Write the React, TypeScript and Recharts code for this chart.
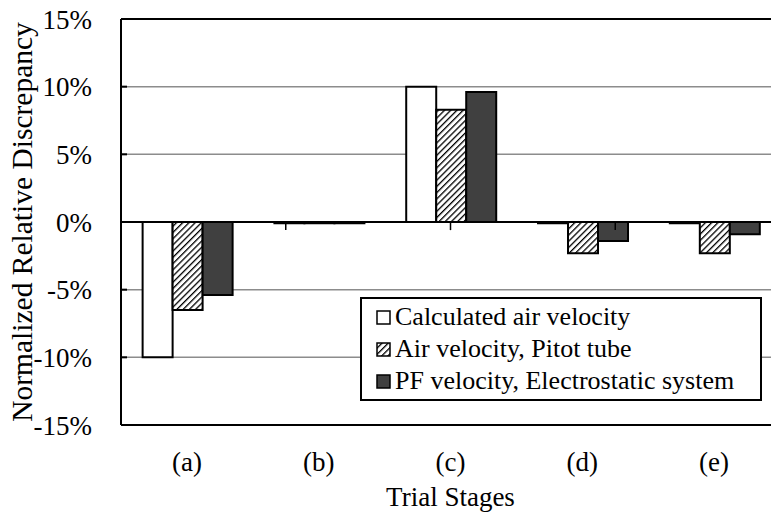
import { Bar, BarChart, CartesianGrid, Legend, ReferenceLine, XAxis, YAxis } from 'recharts';

const stages = ['(a)', '(b)', '(c)', '(d)', '(e)'];
const calculated = [-10, -0.1, 10, -0.1, -0.1];
const pitot = [-6.5, -0.1, 8.3, -2.3, -2.3];
const electrostatic = [-5.4, -0.1, 9.6, -1.4, -0.9];
const seriesNames = ['Calculated air velocity', 'Air velocity, Pitot tube', 'PF velocity, Electrostatic system'];
const yTicks = [-15, -10, -5, 0, 5, 10, 15];
const stageEdges = [1, 2, 3, 4];

const data = stages.map((stage, i) => ({
  stage,
  calculated: calculated[i],
  pitot: pitot[i],
  electrostatic: electrostatic[i],
}));

const font = 'Liberation Serif';

function LegendBox({ payload }: any) {
  const items = [...(payload || [])].sort((a: any, b: any) => seriesNames.indexOf(a.value) - seriesNames.indexOf(b.value));
  return (
    <div
      style={{
        border: '2px solid #000',
        background: '#fff',
        padding: '2px 10px 2px 14px',
        fontFamily: font,
        fontSize: 26,
        lineHeight: '32px',
        color: '#000',
      }}
    >
      {items.map((p: any) => (
        <div key={p.value} style={{ display: 'flex', alignItems: 'center', whiteSpace: 'nowrap', fontFamily: font }}>
          <svg width={15} height={15} style={{ marginRight: 4 }}>
            <rect x={1} y={1} width={13} height={13} fill={p.payload?.fill ?? p.color} stroke="#000" strokeWidth={1.5} />
          </svg>
          {p.value}
        </div>
      ))}
    </div>
  );
}

export default function App() {
  return (
    <div style={{ position: 'absolute', left: 0, top: 0, width: 771, height: 517, overflow: 'hidden', background: '#fff', fontFamily: font }}>
      <BarChart
        width={800}
        height={517}
        data={data}
        margin={{ top: 19, right: 20, bottom: 0, left: 0 }}
        barCategoryGap="16.4%"
        barGap={0}
        style={{ fontFamily: font }}
      >
        <defs>
          <pattern id="hatch" patternUnits="userSpaceOnUse" width={4.4} height={4.4} patternTransform="rotate(45)">
            <rect width={4.4} height={4.4} fill="#fff" />
            <line x1={0} y1={0} x2={0} y2={4.4} stroke="#000" strokeWidth={2.6} />
          </pattern>
        </defs>
        <CartesianGrid horizontal vertical={false} stroke="#8c8c8c" strokeWidth={1.5} />
        <XAxis
          dataKey="stage"
          height={92}
          axisLine={{ stroke: '#000', strokeWidth: 2 }}
          tickLine={false}
          tickSize={0}
          tickMargin={27}
          tick={{ fill: '#000', fontSize: 27, fontFamily: font }}
          label={{ value: 'Trial Stages', position: 'insideBottom', offset: 11, fill: '#000', fontSize: 27, fontFamily: font }}
        />
        <XAxis xAxisId="edges" type="number" domain={[0, 5]} hide />
        <YAxis
          width={121}
          domain={[-15, 15]}
          ticks={yTicks}
          tickFormatter={(v: number) => `${v}%`}
          axisLine={{ stroke: '#000', strokeWidth: 2 }}
          tickLine={{ stroke: '#000', strokeWidth: 2 }}
          tickSize={-6}
          tickMargin={35}
          tick={{ fill: '#000', fontSize: 27, fontFamily: font }}
          label={{
            value: 'Normalized Relative Discrepancy',
            angle: -90,
            position: 'insideLeft',
            offset: 22,
            fill: '#000',
            fontSize: 29.5,
            fontFamily: font,
            style: { textAnchor: 'middle', fontFamily: font },
          }}
        />
        <Bar dataKey="calculated" name={seriesNames[0]} fill="#ffffff" stroke="#000" strokeWidth={2} isAnimationActive={false} />
        <Bar dataKey="pitot" name={seriesNames[1]} fill="url(#hatch)" stroke="#000" strokeWidth={2} isAnimationActive={false} />
        <Bar dataKey="electrostatic" name={seriesNames[2]} fill="#404040" stroke="#000" strokeWidth={2} isAnimationActive={false} />
        <ReferenceLine y={0} stroke="#000" strokeWidth={2} />
        <ReferenceLine y={15} stroke="#000" strokeWidth={2} />
        {stageEdges.map((e) => (
          <ReferenceLine
            key={e}
            xAxisId="edges"
            segment={[{ x: e, y: 0 }, { x: e, y: -0.6 }]}
            stroke="#000"
            strokeWidth={1.5}
          />
        ))}
        <Legend
          layout="horizontal"
          verticalAlign="middle"
          align="center"
          content={<LegendBox />}
          wrapperStyle={{ left: 360, top: 297, width: 402, height: 'auto' }}
        />
      </BarChart>
    </div>
  );
}
